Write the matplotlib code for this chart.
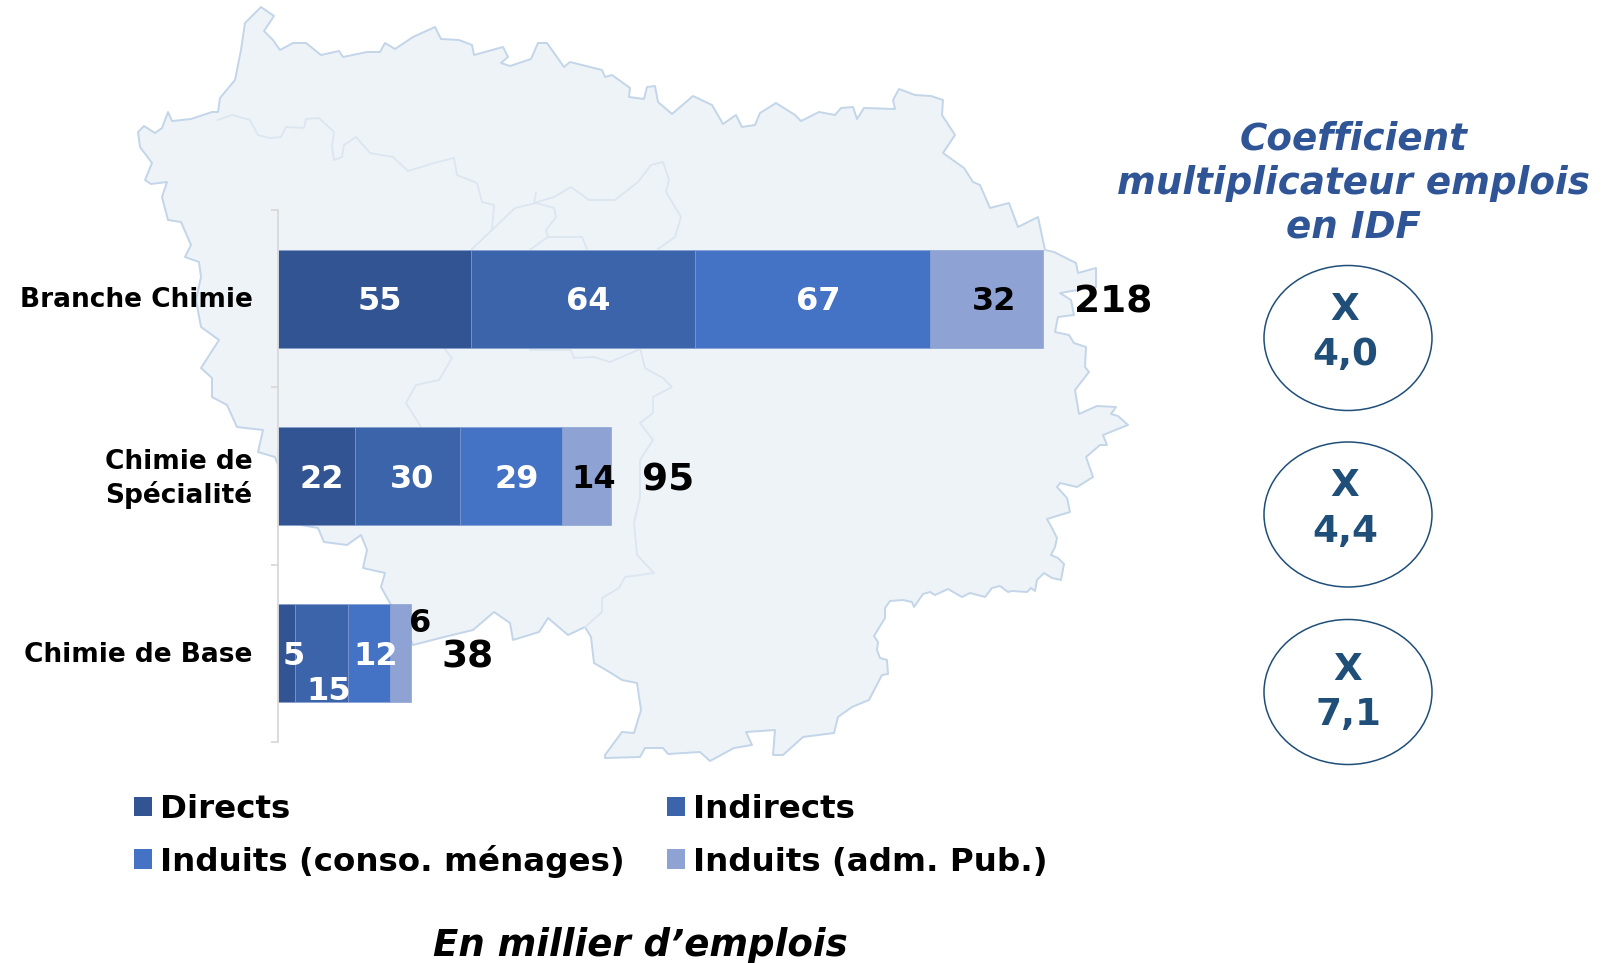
import matplotlib
matplotlib.use("Agg")
import matplotlib.pyplot as plt
from matplotlib.patches import Polygon, Ellipse, Patch
from matplotlib.transforms import ScaledTranslation

plt.rcParams['font.family'] = ['DejaVu Sans']

categories = ["Branche Chimie", "Chimie de\nSpécialité", "Chimie de Base"]
series_names = ["Directs", "Indirects", "Induits (conso. ménages)", "Induits (adm. Pub.)"]
directs = [55, 22, 5]
indirects = [64, 30, 15]
induits_menages = [67, 29, 12]
induits_adm = [32, 14, 6]
totals = [218, 95, 38]
multipliers = ["X\n4,0", "X\n4,4", "X\n7,1"]
colors = ["#325493", "#3C64AA", "#4472C4", "#8FA2D4"]
label_colors = ["white", "white", "white", "black"]

# decorative background map (pixel outline of the region)
map_outline = [(138,132),(144,126),(155,133),(162,128),(168,112),(172,121),(191,119),(212,112),(218,112),(220,98),
 (235,80),(241,50),(245,23),(261,7),(274,16),(264,31),(273,40),(280,50),(293,43),(306,43),(321,55),(339,51),(343,57),
 (367,52),(380,52),(385,43),(395,49),(413,37),(435,27),(441,39),(459,40),(472,45),(474,55),(503,47),(508,57),(501,63),
 (510,66),(531,59),(538,43),(547,43),(564,67),(570,62),(602,70),(605,77),(612,75),(630,88),(629,97),(644,99),(647,87),
 (655,86),(658,102),(672,114),(693,96),(712,105),(723,124),(736,115),(742,127),(755,125),(760,113),(776,103),(795,115),
 (801,121),(819,112),(835,115),(841,108),(853,107),(857,119),(864,108),(895,109),(893,100),(899,89),(915,95),(931,96),
 (943,100),(942,115),(955,135),(943,153),(964,168),(973,182),(980,185),(990,208),(1009,203),(1018,227),(1038,217),
 (1045,250),(1054,252),(1076,263),(1078,273),(1096,268),(1096,287),(1060,293),(1071,300),(1074,315),(1058,317),
 (1055,332),(1069,335),(1074,343),(1086,347),(1085,367),(1089,372),(1075,390),(1079,414),(1097,406),(1116,407),
 (1111,414),(1118,416),(1128,425),(1103,435),(1107,445),(1100,445),(1086,457),(1093,477),(1077,487),(1060,483),
 (1057,487),(1067,498),(1070,512),(1047,519),(1052,528),(1057,538),(1055,547),(1051,555),(1058,558),(1064,564),
 (1061,580),(1052,578),(1044,573),(1037,580),(1035,591),(1031,588),(1027,592),(1012,591),(1008,592),(1000,586),
 (992,588),(985,597),(970,593),(962,597),(948,589),(935,595),(930,592),(923,594),(914,607),(912,602),(903,600),
 (890,601),(885,608),(885,618),(874,636),(878,642),(877,650),(880,658),(887,660),(888,674),(882,675),(869,700),
 (852,707),(838,717),(834,733),(803,737),(783,755),(773,755),(775,730),
 (746,732),(752,745),(734,748),(710,761),(700,752),(668,754),(663,748),(645,748),(640,757),(605,758),(605,755),
 (622,732),(634,733),(641,710),(637,683),(622,680),(611,673),(594,663),(591,637),(585,627),(568,635),(548,618),
 (539,632),(513,640),(510,623),(494,612),(473,630),(444,637),(413,645),(390,603),(381,587),(385,573),(363,568),
 (367,550),(361,535),(347,545),(324,542),(318,528),(301,525),(275,457),(258,452),(263,430),(237,427),(227,405),
 (212,397),(212,378),(201,368),(219,340),(201,327),(196,300),(201,277),(199,262),(185,257),(191,245),(181,222),
 (168,220),(162,197),(167,182),(151,184),(145,180),(152,163),(140,147)]
inner_lines = [
 [(218,120),(232,115),(250,120),(258,135),(270,138),(281,137),(286,127),(304,128),(306,119),(319,118),(334,132),(332,147),
  (334,160),(342,157),(344,145),(356,137),(370,153),(393,157),(408,171),(434,163),(454,158),(457,175),(477,183),(482,202),
  (494,205),(492,230),(472,249)],
 [(492,230),(515,208),(536,203),(554,208),(556,217),(546,230),(548,237),(531,249)],
 [(548,237),(582,237),(587,249)],
 [(536,193),(534,203),(554,197),(571,187),(589,200),(615,200),(638,182),(651,165),(663,162),(669,180),(666,192),(681,217),
  (675,237),(658,249)],
 [(444,348),(452,358),(439,380),(416,385),(406,403),(421,427)],
 [(530,350),(571,350),(574,358),(594,357),(610,362),(638,350)],
 [(640,348),(645,368),(663,378),(672,387),(653,397),(653,413),(640,423),(653,440),(640,460),(640,497),(634,523),(637,555),
  (654,573),(625,577),(619,588),(602,598),(602,612),(585,627)],
]

W, H = 1614, 963
fig = plt.figure(figsize=(W/100, H/100), dpi=100, facecolor="white")

bg = fig.add_axes([0, 0, 1, 1], zorder=0)
bg.set_xlim(0, W); bg.set_ylim(H, 0); bg.axis("off")
bg.add_patch(Polygon(map_outline, closed=True, facecolor="#EEF3F8", edgecolor="#C3D5E8", linewidth=1.4, joinstyle="round"))
for line in inner_lines:
    bg.plot(*zip(*line), color="#DCE6F0", lw=1.3, solid_joinstyle="round")

# bar axes: 3.51 px per thousand jobs, rows between y 210 and 742 px
left, top, bottom = 277.5, 210, 742
ax = fig.add_axes([left/W, 1-bottom/H, (W-left)/W, (bottom-top)/H], zorder=1)
ax.patch.set_alpha(0)
ax.set_xlim(0, (W-left)/3.51)
ax.set_ylim(2.5, -0.5)
for s in ("top", "right", "bottom"):
    ax.spines[s].set_visible(False)
ax.spines["left"].set_color("#D9D9D9"); ax.spines["left"].set_linewidth(1.3)
ax.set_xticks([])
ax.set_yticks([-0.5, 0.5, 1.5, 2.5]); ax.set_yticklabels([])
ax.tick_params(axis="y", which="major", length=5, width=1.3, color="#D9D9D9")
ax.set_yticks([0, 1, 2], minor=True)
ax.set_yticklabels(categories, minor=True, fontweight="bold", fontsize=19, ha="right", linespacing=1.26)
ax.tick_params(axis="y", which="minor", length=0, pad=18)
for lab, dy in zip(ax.get_yticklabels(minor=True), [2, 3, 1]):
    lab.set_transform(lab.get_transform() + ScaledTranslation(0, dy/100, fig.dpi_scale_trans))

series = [directs, indirects, induits_menages, induits_adm]
offsets = {(0, 0): (6, 0), (0, 1): (5, 0), (0, 2): (5, 0), (0, 3): (8, 0),
           (1, 0): (6, 0), (1, 1): (5, 0), (1, 2): (6, 0), (1, 3): (7, 0),
           (2, 0): (7, 0), (2, 1): (7, -35), (2, 2): (7, 0), (2, 3): (20, 33)}
for j, vals in enumerate(series):
    lefts = [sum(series[k][i] for k in range(j)) for i in range(3)]
    ax.barh(range(3), vals, left=lefts, height=0.553, color=colors[j],
            edgecolor="#7F9BD0", linewidth=0.4, label=series_names[j])
    for i, v in enumerate(vals):
        dx, dy = offsets.get((i, j), (0, 0))
        col = "black" if (i, j) == (2, 3) else label_colors[j]
        ax.annotate(str(v), (lefts[i] + v/2, i), xytext=(dx, dy - 3), textcoords="offset pixels",
                    ha="center", va="center", color=col, fontweight="bold", fontsize=23)
for i, t in enumerate(totals):
    ax.annotate(str(t), (t, i), xytext=(31, -4), textcoords="offset pixels", ha="left", va="center",
                fontweight="bold", fontsize=27, color="black")

handles = [Patch(facecolor=c, edgecolor="none") for c in colors]
order = [0, 2, 1, 3]   # matplotlib fills legends column by column
leg = ax.legend([handles[i] for i in order], [series_names[i] for i in order], ncol=2, frameon=False,
          prop={"weight": "bold", "size": 23.4},
          loc="upper left", bbox_to_anchor=((134 - left)/(W - left), -0.098), borderaxespad=0, borderpad=0,
          handlelength=0.55, handleheight=0.55, handletextpad=0.25, columnspacing=1.3, labelspacing=0.6)
# the accent in "ménages" makes that column's row taller: even out the two columns
leg._legend_handle_box.get_children()[1].sep += 1.5

# right-hand panel
title_lines = ["Coefficient", "multiplicateur emplois", "en IDF"]
for s, y in zip(title_lines, [138.5, 184, 227]):
    bg.text(1353.5, y, s, ha="center", va="center", color="#2F5597", fontweight="bold", fontstyle="italic", fontsize=26.8)
for m, cy, dx, dy in zip(multipliers, [338, 514.5, 692], [-3, -3, 0], [-6, -6, 0]):
    bg.add_patch(Ellipse((1348, cy), 168, 145, facecolor="white", edgecolor="#1F4E79", linewidth=1.1))
    bg.text(1348+dx, cy+dy, m, ha="center", va="center", color="#1F4E79", fontweight="bold", fontsize=26.8, linespacing=1.31)

bg.text(640, 946, "En millier d’emplois", ha="center", va="center", color="black",
        fontweight="bold", fontstyle="italic", fontsize=26.7)

fig.savefig("out.png", dpi=100)
